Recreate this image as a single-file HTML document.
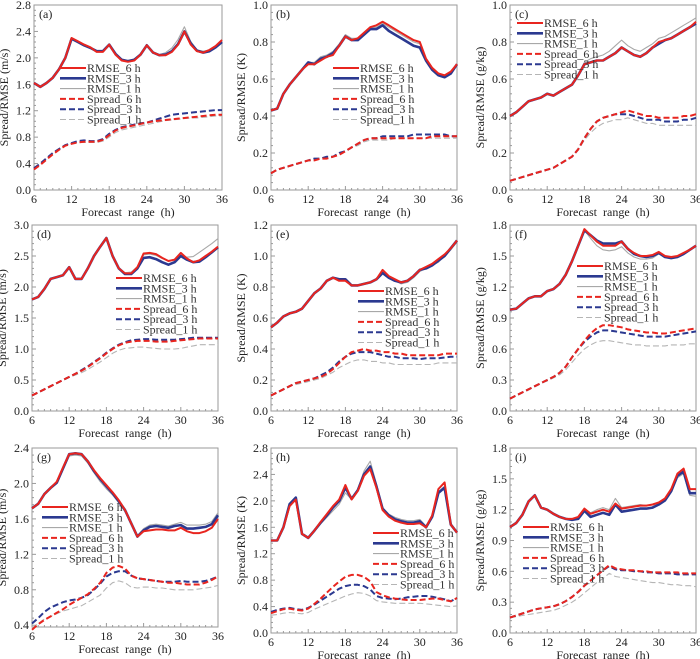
<!DOCTYPE html>
<html><head><meta charset="utf-8"><style>
body{margin:0;background:#fff;}
svg{display:block;font-family:"Liberation Serif",serif;}
</style></head><body>
<svg id="fig" width="700" height="659" viewBox="0 0 700 659" xmlns="http://www.w3.org/2000/svg"></svg>
<script>
const hours=[6,7,8,9,10,11,12,13,14,15,16,17,18,19,20,21,22,23,24,25,26,27,28,29,30,31,32,33,34,35,36];
const seriesNames=["RMSE_1 h","RMSE_3 h","RMSE_6 h","Spread_1 h","Spread_3 h","Spread_6 h"];
const legendOrder=["RMSE_6 h","RMSE_3 h","RMSE_1 h","Spread_6 h","Spread_3 h","Spread_1 h"];

const aR6=[1.62,1.56,1.62,1.70,1.83,2.00,2.30,2.25,2.20,2.16,2.09,2.09,2.20,2.05,1.96,1.94,1.96,2.05,2.19,2.08,2.04,2.04,2.09,2.20,2.40,2.20,2.10,2.08,2.12,2.18,2.27];
const aR3=[1.62,1.56,1.62,1.70,1.83,2.00,2.29,2.24,2.19,2.15,2.10,2.10,2.20,2.06,1.97,1.95,1.97,2.05,2.19,2.08,2.04,2.05,2.10,2.21,2.40,2.22,2.11,2.08,2.10,2.16,2.24];
const aR1=[1.62,1.56,1.62,1.70,1.83,2.00,2.28,2.23,2.19,2.15,2.10,2.10,2.20,2.06,1.98,1.96,1.98,2.06,2.19,2.08,2.05,2.08,2.15,2.28,2.47,2.25,2.12,2.10,2.12,2.17,2.25];
const aS6=[0.31,0.38,0.46,0.54,0.61,0.67,0.70,0.72,0.73,0.73,0.73,0.76,0.83,0.90,0.94,0.96,0.98,1.00,1.02,1.04,1.05,1.06,1.07,1.08,1.09,1.10,1.11,1.12,1.13,1.14,1.14];
const aS3=[0.33,0.40,0.48,0.56,0.62,0.68,0.71,0.74,0.75,0.74,0.74,0.77,0.85,0.91,0.95,0.97,0.99,1.01,1.02,1.05,1.08,1.11,1.14,1.15,1.16,1.17,1.18,1.19,1.20,1.21,1.21];
const aS1=[0.32,0.39,0.47,0.55,0.61,0.67,0.70,0.72,0.72,0.72,0.72,0.74,0.80,0.87,0.91,0.93,0.95,0.97,0.99,1.01,1.03,1.05,1.06,1.07,1.08,1.09,1.09,1.10,1.11,1.12,1.12];

const bR6=[0.43,0.44,0.52,0.57,0.61,0.65,0.68,0.68,0.70,0.72,0.73,0.78,0.83,0.81,0.82,0.85,0.88,0.89,0.91,0.89,0.87,0.85,0.83,0.81,0.80,0.71,0.66,0.63,0.62,0.64,0.68];
const bR3=[0.43,0.44,0.52,0.57,0.61,0.65,0.69,0.68,0.71,0.72,0.74,0.78,0.83,0.81,0.81,0.84,0.87,0.87,0.89,0.86,0.84,0.82,0.80,0.78,0.77,0.70,0.65,0.62,0.61,0.63,0.68];
const bR1=[0.43,0.44,0.52,0.57,0.61,0.65,0.69,0.69,0.72,0.73,0.75,0.79,0.84,0.82,0.82,0.85,0.88,0.88,0.90,0.88,0.86,0.84,0.82,0.80,0.79,0.71,0.66,0.63,0.62,0.64,0.68];
const bS6=[0.09,0.11,0.12,0.13,0.14,0.15,0.16,0.16,0.17,0.17,0.18,0.19,0.21,0.23,0.25,0.27,0.28,0.28,0.28,0.28,0.28,0.28,0.28,0.28,0.28,0.28,0.29,0.29,0.29,0.29,0.29];
const bS3=[0.09,0.11,0.12,0.13,0.14,0.15,0.16,0.17,0.17,0.18,0.18,0.20,0.21,0.23,0.25,0.27,0.28,0.28,0.29,0.29,0.29,0.29,0.29,0.30,0.30,0.30,0.30,0.30,0.30,0.29,0.29];
const bS1=[0.09,0.11,0.12,0.13,0.14,0.15,0.16,0.16,0.17,0.17,0.18,0.19,0.21,0.23,0.24,0.26,0.27,0.27,0.27,0.27,0.28,0.28,0.28,0.28,0.28,0.28,0.28,0.28,0.28,0.28,0.28];

const cR6=[0.40,0.42,0.45,0.48,0.49,0.50,0.52,0.51,0.53,0.55,0.57,0.62,0.68,0.69,0.70,0.70,0.72,0.74,0.77,0.75,0.73,0.72,0.74,0.77,0.80,0.81,0.82,0.84,0.86,0.88,0.91];
const cR3=[0.40,0.42,0.45,0.48,0.49,0.50,0.52,0.51,0.53,0.55,0.57,0.62,0.68,0.69,0.70,0.70,0.72,0.74,0.77,0.75,0.73,0.72,0.74,0.77,0.79,0.81,0.82,0.84,0.86,0.88,0.90];
const cR1=[0.40,0.42,0.45,0.48,0.49,0.50,0.52,0.51,0.53,0.55,0.57,0.62,0.69,0.71,0.72,0.73,0.75,0.78,0.81,0.78,0.76,0.75,0.77,0.79,0.82,0.83,0.85,0.87,0.89,0.91,0.93];
const cS6=[0.05,0.06,0.07,0.08,0.09,0.10,0.11,0.12,0.14,0.16,0.18,0.22,0.28,0.33,0.37,0.39,0.40,0.41,0.42,0.43,0.42,0.41,0.40,0.40,0.39,0.39,0.39,0.39,0.40,0.40,0.41];
const cS3=[0.05,0.06,0.07,0.08,0.09,0.10,0.11,0.12,0.14,0.16,0.18,0.22,0.28,0.33,0.37,0.39,0.40,0.41,0.41,0.41,0.40,0.39,0.38,0.38,0.38,0.37,0.37,0.37,0.38,0.38,0.39];
const cS1=[0.05,0.06,0.07,0.08,0.09,0.10,0.11,0.12,0.14,0.16,0.18,0.22,0.27,0.31,0.34,0.36,0.37,0.38,0.38,0.39,0.38,0.37,0.36,0.36,0.35,0.35,0.35,0.35,0.35,0.35,0.35];

const dR6=[1.80,1.84,1.97,2.13,2.16,2.19,2.32,2.13,2.13,2.30,2.50,2.65,2.79,2.50,2.30,2.22,2.22,2.32,2.54,2.55,2.53,2.47,2.42,2.44,2.55,2.46,2.40,2.43,2.50,2.57,2.65];
const dR3=[1.80,1.84,1.97,2.13,2.16,2.19,2.32,2.13,2.13,2.30,2.50,2.65,2.79,2.50,2.30,2.21,2.21,2.30,2.47,2.48,2.45,2.40,2.36,2.40,2.50,2.44,2.40,2.41,2.48,2.56,2.64];
const dR1=[1.80,1.84,1.97,2.13,2.16,2.19,2.32,2.13,2.13,2.30,2.50,2.65,2.79,2.50,2.30,2.23,2.24,2.33,2.52,2.53,2.51,2.46,2.42,2.45,2.50,2.48,2.49,2.56,2.63,2.70,2.78];
const dS6=[0.25,0.30,0.35,0.40,0.45,0.50,0.55,0.60,0.65,0.71,0.78,0.85,0.93,1.00,1.06,1.10,1.12,1.13,1.13,1.13,1.12,1.12,1.12,1.13,1.14,1.15,1.16,1.17,1.17,1.17,1.17];
const dS3=[0.25,0.30,0.35,0.40,0.45,0.50,0.55,0.60,0.66,0.72,0.79,0.86,0.94,1.01,1.07,1.11,1.14,1.15,1.16,1.16,1.15,1.15,1.15,1.15,1.16,1.17,1.18,1.18,1.18,1.18,1.18];
const dS1=[0.25,0.30,0.35,0.40,0.45,0.49,0.54,0.58,0.62,0.67,0.73,0.79,0.86,0.93,0.98,1.01,1.02,1.03,1.03,1.02,1.01,1.00,1.00,1.00,1.01,1.03,1.05,1.07,1.07,1.07,1.07];

const eR6=[0.54,0.57,0.61,0.63,0.64,0.66,0.71,0.76,0.79,0.84,0.86,0.84,0.84,0.81,0.81,0.82,0.83,0.85,0.91,0.87,0.85,0.83,0.84,0.87,0.91,0.93,0.95,0.98,1.01,1.05,1.10];
const eR3=[0.54,0.57,0.61,0.63,0.64,0.66,0.71,0.76,0.79,0.84,0.86,0.85,0.85,0.81,0.81,0.82,0.83,0.85,0.89,0.86,0.84,0.83,0.84,0.87,0.91,0.92,0.94,0.97,1.00,1.05,1.10];
const eR1=[0.54,0.57,0.61,0.63,0.64,0.66,0.71,0.76,0.79,0.84,0.86,0.85,0.85,0.81,0.81,0.82,0.83,0.85,0.89,0.86,0.84,0.82,0.83,0.86,0.90,0.92,0.94,0.96,1.00,1.04,1.09];
const eS6=[0.10,0.12,0.14,0.16,0.18,0.19,0.20,0.21,0.22,0.24,0.27,0.31,0.35,0.38,0.39,0.40,0.39,0.39,0.38,0.38,0.37,0.37,0.36,0.36,0.36,0.36,0.36,0.36,0.37,0.37,0.37];
const eS3=[0.10,0.12,0.14,0.16,0.18,0.19,0.20,0.21,0.23,0.25,0.28,0.32,0.35,0.37,0.38,0.38,0.38,0.37,0.36,0.35,0.35,0.34,0.34,0.34,0.335,0.34,0.34,0.34,0.345,0.35,0.35];
const eS1=[0.10,0.12,0.14,0.16,0.17,0.18,0.19,0.20,0.21,0.23,0.25,0.28,0.30,0.32,0.33,0.33,0.32,0.32,0.31,0.31,0.30,0.30,0.30,0.30,0.30,0.30,0.30,0.31,0.31,0.31,0.31];

const fR6=[0.98,0.99,1.04,1.09,1.11,1.11,1.16,1.18,1.23,1.32,1.45,1.60,1.76,1.70,1.64,1.60,1.60,1.60,1.64,1.57,1.53,1.50,1.50,1.51,1.54,1.50,1.49,1.50,1.53,1.56,1.60];
const fR3=[0.98,0.99,1.04,1.09,1.11,1.11,1.16,1.18,1.23,1.32,1.45,1.60,1.75,1.70,1.65,1.62,1.62,1.62,1.64,1.57,1.52,1.50,1.49,1.50,1.53,1.49,1.48,1.49,1.52,1.56,1.60];
const fR1=[0.98,0.99,1.04,1.09,1.11,1.11,1.16,1.18,1.23,1.32,1.45,1.60,1.75,1.67,1.60,1.56,1.55,1.56,1.59,1.53,1.49,1.47,1.47,1.48,1.52,1.49,1.49,1.50,1.53,1.56,1.60];
const fS6=[0.12,0.15,0.18,0.21,0.24,0.27,0.30,0.33,0.37,0.43,0.52,0.60,0.68,0.75,0.80,0.83,0.83,0.82,0.81,0.79,0.78,0.77,0.76,0.76,0.75,0.75,0.76,0.77,0.78,0.79,0.80];
const fS3=[0.12,0.15,0.18,0.21,0.24,0.27,0.30,0.33,0.37,0.43,0.52,0.60,0.67,0.72,0.76,0.78,0.78,0.77,0.76,0.75,0.74,0.73,0.72,0.72,0.72,0.72,0.73,0.74,0.75,0.76,0.77];
const fS1=[0.12,0.15,0.18,0.21,0.24,0.27,0.29,0.32,0.35,0.40,0.47,0.54,0.60,0.64,0.67,0.68,0.68,0.67,0.66,0.65,0.64,0.64,0.63,0.63,0.63,0.63,0.64,0.64,0.64,0.65,0.65];

const gR6=[1.72,1.77,1.88,1.95,2.02,2.18,2.33,2.34,2.33,2.25,2.15,2.06,1.98,1.90,1.81,1.70,1.55,1.40,1.46,1.47,1.48,1.48,1.47,1.47,1.50,1.46,1.44,1.44,1.46,1.50,1.60];
const gR3=[1.72,1.77,1.88,1.95,2.01,2.17,2.33,2.34,2.33,2.25,2.14,2.05,1.97,1.89,1.80,1.70,1.55,1.40,1.47,1.51,1.52,1.51,1.50,1.52,1.53,1.49,1.49,1.50,1.51,1.54,1.64];
const gR1=[1.72,1.77,1.88,1.94,2.00,2.16,2.31,2.32,2.31,2.23,2.12,2.02,1.94,1.87,1.78,1.68,1.54,1.41,1.49,1.53,1.54,1.53,1.52,1.54,1.56,1.53,1.53,1.53,1.54,1.57,1.67];
const gS6=[0.35,0.41,0.46,0.50,0.54,0.58,0.63,0.67,0.71,0.75,0.81,0.88,0.99,1.05,1.07,1.04,0.96,0.93,0.92,0.91,0.90,0.89,0.88,0.88,0.87,0.86,0.86,0.86,0.88,0.91,0.95];
const gS3=[0.42,0.48,0.55,0.60,0.63,0.66,0.68,0.69,0.71,0.74,0.80,0.87,0.95,0.99,1.01,1.01,0.96,0.93,0.92,0.91,0.90,0.89,0.89,0.89,0.90,0.89,0.89,0.89,0.90,0.92,0.95];
const gS1=[0.37,0.42,0.47,0.50,0.53,0.56,0.58,0.60,0.62,0.66,0.70,0.74,0.82,0.88,0.90,0.88,0.83,0.82,0.83,0.83,0.82,0.82,0.81,0.80,0.80,0.80,0.80,0.81,0.82,0.83,0.85];

const hR6=[1.40,1.40,1.60,1.92,2.02,1.50,1.44,1.55,1.68,1.80,1.92,2.02,2.24,2.02,2.15,2.38,2.48,2.20,1.86,1.76,1.70,1.67,1.65,1.65,1.66,1.60,1.78,2.18,2.28,1.64,1.52];
const hR3=[1.40,1.40,1.60,1.95,2.05,1.50,1.44,1.55,1.67,1.78,1.90,2.00,2.20,2.03,2.16,2.40,2.52,2.22,1.88,1.78,1.72,1.69,1.67,1.67,1.69,1.60,1.76,2.12,2.20,1.64,1.52];
const hR1=[1.40,1.40,1.60,1.95,2.05,1.50,1.44,1.54,1.65,1.75,1.85,1.95,2.12,2.02,2.18,2.45,2.60,2.26,1.90,1.80,1.75,1.72,1.70,1.70,1.72,1.62,1.78,2.14,2.22,1.64,1.52];
const hS6=[0.30,0.33,0.36,0.37,0.35,0.34,0.37,0.44,0.52,0.61,0.70,0.78,0.85,0.88,0.88,0.85,0.78,0.62,0.57,0.54,0.52,0.51,0.50,0.50,0.50,0.51,0.52,0.52,0.50,0.48,0.53];
const hS3=[0.32,0.35,0.37,0.38,0.36,0.35,0.38,0.43,0.49,0.55,0.61,0.67,0.71,0.73,0.73,0.71,0.66,0.56,0.53,0.52,0.51,0.52,0.54,0.55,0.56,0.56,0.55,0.53,0.51,0.48,0.53];
const hS1=[0.27,0.28,0.30,0.31,0.30,0.29,0.31,0.36,0.40,0.44,0.48,0.52,0.56,0.59,0.61,0.60,0.56,0.49,0.47,0.46,0.45,0.45,0.45,0.45,0.45,0.44,0.43,0.42,0.41,0.40,0.41];

const iR6=[1.03,1.07,1.15,1.28,1.34,1.22,1.20,1.16,1.13,1.11,1.11,1.13,1.21,1.16,1.18,1.20,1.18,1.26,1.21,1.22,1.23,1.24,1.24,1.25,1.27,1.31,1.40,1.55,1.60,1.40,1.40];
const iR3=[1.03,1.07,1.15,1.28,1.34,1.22,1.20,1.16,1.13,1.11,1.10,1.11,1.19,1.13,1.15,1.17,1.15,1.25,1.18,1.19,1.20,1.21,1.21,1.22,1.25,1.29,1.38,1.53,1.57,1.36,1.36];
const iR1=[1.03,1.07,1.15,1.28,1.34,1.22,1.20,1.16,1.13,1.11,1.11,1.13,1.21,1.17,1.20,1.22,1.20,1.31,1.22,1.23,1.24,1.25,1.24,1.25,1.27,1.30,1.37,1.51,1.55,1.34,1.33];
const iS6=[0.15,0.17,0.19,0.21,0.23,0.24,0.25,0.26,0.28,0.31,0.35,0.40,0.46,0.51,0.56,0.61,0.66,0.63,0.62,0.61,0.61,0.60,0.60,0.59,0.59,0.59,0.59,0.59,0.58,0.58,0.58];
const iS3=[0.15,0.17,0.19,0.21,0.23,0.24,0.25,0.26,0.28,0.31,0.35,0.40,0.46,0.51,0.56,0.61,0.65,0.62,0.61,0.61,0.60,0.60,0.59,0.59,0.58,0.58,0.58,0.57,0.57,0.57,0.57];
const iS1=[0.15,0.16,0.17,0.18,0.19,0.20,0.21,0.22,0.24,0.27,0.30,0.34,0.39,0.44,0.49,0.53,0.58,0.55,0.54,0.53,0.52,0.51,0.50,0.49,0.49,0.48,0.47,0.47,0.46,0.46,0.45];

const xTicks=[6,12,18,24,30,36];
const panels=[
 {id:"a",L:34,R:222,T:5,B:190,ymin:0,ymax:2.8,step:0.4,dec:1,unit:"(m/s)",lx:60,ly:68,s:[aR1,aR3,aR6,aS1,aS3,aS6]},
 {id:"b",L:271,R:457,T:5,B:190,ymin:0,ymax:1.0,step:0.2,dec:1,unit:"(K)",lx:333,ly:68,s:[bR1,bR3,bR6,bS1,bS3,bS6]},
 {id:"c",L:510,R:696,T:5,B:190,ymin:0,ymax:1.0,step:0.2,dec:1,unit:"(g/kg)",lx:517,ly:23,s:[cR1,cR3,cR6,cS1,cS3,cS6]},
 {id:"d",L:32,R:218,T:225,B:411,ymin:0,ymax:3.0,step:0.5,dec:1,unit:"(m/s)",lx:116,ly:278,s:[dR1,dR3,dR6,dS1,dS3,dS6]},
 {id:"e",L:271,R:457,T:225,B:411,ymin:0,ymax:1.2,step:0.2,dec:1,unit:"(K)",lx:358,ly:291,s:[eR1,eR3,eR6,eS1,eS3,eS6]},
 {id:"f",L:510,R:696,T:225,B:411,ymin:0,ymax:1.8,step:0.3,dec:1,unit:"(g/kg)",lx:577,ly:266,s:[fR1,fR3,fR6,fS1,fS3,fS6]},
 {id:"g",L:32,R:218,T:448,B:627,ymin:0.38,ymax:2.4,step:0.4,tick0:0.4,dec:1,unit:"(m/s)",lx:42,ly:507,s:[gR1,gR3,gR6,gS1,gS3,gS6]},
 {id:"h",L:271,R:457,T:448,B:633,ymin:0,ymax:2.8,step:0.4,dec:1,unit:"(K)",lx:373,ly:533,s:[hR1,hR3,hR6,hS1,hS3,hS6]},
 {id:"i",L:510,R:696,T:448,B:633,ymin:0,ymax:1.8,step:0.3,dec:1,unit:"(g/kg)",lx:523,ly:527,s:[iR1,iR3,iR6,iS1,iS3,iS6]}
];
const styles={
 "RMSE_1 h":{c:"#a8a8a8",w:1.1,d:""},
 "RMSE_3 h":{c:"#2b3990",w:2.6,d:""},
 "RMSE_6 h":{c:"#e8251f",w:2,d:""},
 "Spread_1 h":{c:"#b5b5b5",w:1.1,d:"6,3"},
 "Spread_3 h":{c:"#2b3990",w:2,d:"6,3"},
 "Spread_6 h":{c:"#e8251f",w:2,d:"6,3"}
};
const NS="http://www.w3.org/2000/svg";
const svg=document.getElementById("fig");
function mk(tag,attrs,parent){const e=document.createElementNS(NS,tag);for(const k in attrs)e.setAttribute(k,attrs[k]);(parent||svg).appendChild(e);return e;}
panels.forEach(p=>{
 const g=mk("g",{});
 
 
 const xs=h=>p.L+(h-6)/30*(p.R-p.L);
 const ys=v=>p.B-(v-p.ymin)/(p.ymax-p.ymin)*(p.B-p.T);
 const fr=mk("rect",{x:p.L,y:p.T,width:p.R-p.L,height:p.B-p.T,fill:"none",stroke:"#9a9a9a","stroke-width":1},g);
 
 
 for(let h=6;h<=36;h++){
  const major=(h%6===0);
  mk("line",{x1:xs(h),x2:xs(h),y1:p.B,y2:p.B-(major?4:2),stroke:"#9a9a9a","stroke-width":1},g);
 }
 xTicks.forEach(h=>{
  const t=mk("text",{x:xs(h),y:p.B+13,"text-anchor":"middle","font-size":12,fill:"#222"},g);
  t.textContent=h;
  
  
 });
 const xt=mk("text",{x:(p.L+p.R)/2,y:p.B+26,"text-anchor":"middle","font-size":12,fill:"#222","word-spacing":"3"},g);
 xt.textContent="Forecast range (h)";
 
 
 const t0=p.tick0!==undefined?p.tick0:p.ymin;
 const minorStep=p.step/5;
 for(let v=t0-p.step;v<=p.ymax+1e-9;v+=minorStep){
  if(v<p.ymin-1e-9)continue;
  const k=Math.round((v-t0)/minorStep);
  const major=(k%5===0);
  mk("line",{x1:p.L,x2:p.L+(major?4:2),y1:ys(v),y2:ys(v),stroke:"#9a9a9a","stroke-width":1},g);
 }
 for(let v=t0;v<=p.ymax+1e-9;v+=p.step){
  const t=mk("text",{x:p.L-3,y:ys(v)+4,"text-anchor":"end","font-size":12,fill:"#222"},g);
  t.textContent=v.toFixed(p.dec);
  
  
 }
 const yx=p.L-26, ymid=(p.T+p.B)/2;
 const yt=mk("text",{x:yx,y:ymid,"text-anchor":"middle","font-size":12,fill:"#222",transform:`rotate(-90 ${yx} ${ymid})`},g);
 yt.textContent="Spread/RMSE "+p.unit;
 
 
 const pl=mk("text",{x:p.L+5,y:p.T+13,"font-size":12,fill:"#222"},g);
 pl.textContent="("+p.id+")";
 
 
 [3,4,5,0,1,2].forEach(i=>{
  const name=seriesNames[i], st=styles[name], vals=p.s[i];
  const d=vals.map((v,j)=>(j?"L":"M")+xs(hours[j]).toFixed(1)+","+ys(v).toFixed(1)).join("");
  const path=mk("path",{d:d,fill:"none",stroke:st.c,"stroke-width":st.w,"stroke-dasharray":st.d,"stroke-linejoin":"round"},g);
  
  
 });
 legendOrder.forEach((name,k)=>{
  const st=styles[name], yy=p.ly+k*10.3;
  const ln=mk("line",{x1:p.lx,x2:p.lx+26,y1:yy,y2:yy,stroke:st.c,"stroke-width":st.w,"stroke-dasharray":st.d},g);
  
  
  const tx=mk("text",{x:p.lx+27,y:yy+4,"font-size":12,fill:"#333"},g);
  tx.textContent=name;
  
  
 });
});
</script>
</body></html>
